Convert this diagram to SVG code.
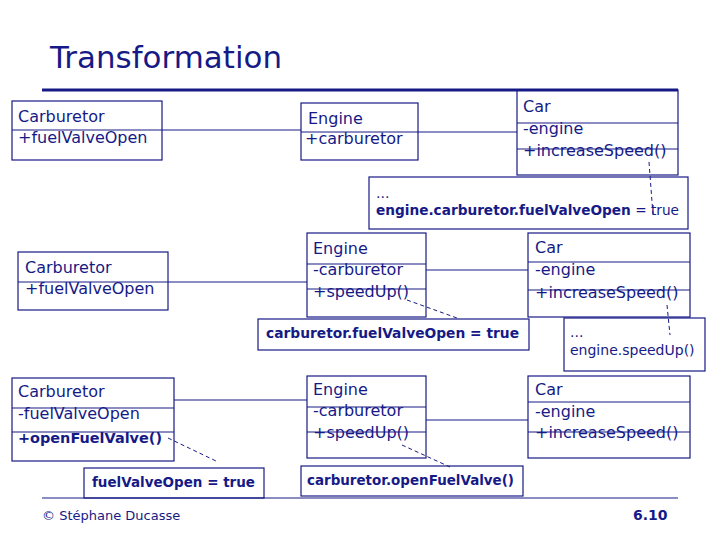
<svg xmlns="http://www.w3.org/2000/svg" width="720" height="540" viewBox="0 0 720 540">
<style>
text{font-family:"DejaVu Sans","Liberation Sans",sans-serif;fill:#161a86}
.t{font-size:16px}
.b{font-weight:bold;font-size:13.5px}
.n{font-size:14px}
.box{fill:none;stroke:#161a86;stroke-width:1.2}
.div{stroke:#161a86;stroke-width:1.2}
.c{stroke:#161a86;stroke-width:1.2;fill:none}
.d{stroke:#161a86;stroke-width:1;stroke-dasharray:4 3;fill:none}
</style>
<rect width="720" height="540" fill="#fff"/>
<text x="50" y="68" font-size="31" textLength="232" lengthAdjust="spacingAndGlyphs">Transformation</text>
<line x1="42" y1="90" x2="678" y2="90" stroke="#161a86" stroke-width="3"/>

<g id="connectors">
<line class="c" x1="162" y1="130" x2="301" y2="130"/>
<line class="c" x1="418" y1="132" x2="517" y2="132"/>
<line class="d" x1="649" y1="162" x2="653" y2="215"/>
<line class="c" x1="168" y1="282" x2="307" y2="282"/>
<line class="c" x1="426" y1="270" x2="528" y2="270"/>
<line class="d" x1="407" y1="300" x2="457" y2="318"/>
<line class="d" x1="667" y1="305" x2="670" y2="335"/>
<line class="c" x1="174" y1="400" x2="307" y2="400"/>
<line class="c" x1="426" y1="420" x2="528" y2="420"/>
<line class="d" x1="168" y1="438" x2="216" y2="461"/>
<line class="d" x1="402" y1="445" x2="450" y2="467"/>
</g>

<g id="carburetor1">
<rect class="box" x="12" y="101" width="150" height="59"/>
<line class="div" x1="12" y1="130" x2="162" y2="130"/>
<text class="t" x="18" y="122">Carburetor</text>
<text class="t" x="18" y="143">+fuelValveOpen</text>
</g>
<g id="engine1">
<rect class="box" x="301" y="103" width="117" height="57"/>
<line class="div" x1="301" y1="132" x2="418" y2="132"/>
<text class="t" x="308" y="124">Engine</text>
<text class="t" x="305" y="144">+carburetor</text>
</g>
<g id="car1">
<rect class="box" x="517" y="90" width="161" height="85"/>
<line class="div" x1="517" y1="123" x2="678" y2="123"/>
<line class="div" x1="517" y1="149" x2="678" y2="149"/>
<text class="t" x="523" y="112">Car</text>
<text class="t" x="523" y="134">-engine</text>
<text class="t" x="523" y="156">+increaseSpeed()</text>
</g>
<g id="note1">
<rect class="box" x="369" y="177" width="319" height="52"/>
<text class="n" x="376" y="198">...</text>
<text x="376" y="215" font-size="13.5" textLength="303" lengthAdjust="spacingAndGlyphs"><tspan font-weight="bold">engine.carburetor.fuelValveOpen</tspan> = true</text>
</g>

<g id="carburetor2">
<rect class="box" x="18" y="252" width="150" height="58"/>
<line class="div" x1="18" y1="282" x2="168" y2="282"/>
<text class="t" x="25" y="273">Carburetor</text>
<text class="t" x="25" y="294">+fuelValveOpen</text>
</g>
<g id="engine2">
<rect class="box" x="307" y="233" width="119" height="84"/>
<line class="div" x1="307" y1="264" x2="426" y2="264"/>
<line class="div" x1="307" y1="289" x2="426" y2="289"/>
<text class="t" x="313" y="254">Engine</text>
<text class="t" x="313" y="275">-carburetor</text>
<text class="t" x="313" y="297">+speedUp()</text>
</g>
<g id="car2">
<rect class="box" x="528" y="233" width="162" height="84"/>
<line class="div" x1="528" y1="262" x2="690" y2="262"/>
<line class="div" x1="528" y1="290" x2="690" y2="290"/>
<text class="t" x="535" y="253">Car</text>
<text class="t" x="535" y="275">-engine</text>
<text class="t" x="535" y="298">+increaseSpeed()</text>
</g>
<g id="note2">
<rect class="box" x="258" y="319" width="271" height="31"/>
<text class="b" x="266" y="338" textLength="253" lengthAdjust="spacingAndGlyphs">carburetor.fuelValveOpen = true</text>
</g>
<g id="note3">
<rect class="box" x="564" y="318" width="141" height="53"/>
<text class="n" x="570" y="337">...</text>
<text class="n" x="570" y="355">engine.speedUp()</text>
</g>

<g id="carburetor3">
<rect class="box" x="12" y="378" width="162" height="83"/>
<line class="div" x1="12" y1="408" x2="174" y2="408"/>
<line class="div" x1="12" y1="432" x2="174" y2="432"/>
<text class="t" x="18" y="397">Carburetor</text>
<text class="t" x="18" y="419">-fuelValveOpen</text>
<text x="18" y="443" font-size="14.5" font-weight="bold" textLength="144" lengthAdjust="spacingAndGlyphs">+openFuelValve()</text>
</g>
<g id="engine3">
<rect class="box" x="307" y="376" width="119" height="82"/>
<line class="div" x1="307" y1="407" x2="426" y2="407"/>
<line class="div" x1="307" y1="432" x2="426" y2="432"/>
<text class="t" x="313" y="395">Engine</text>
<text class="t" x="313" y="416">-carburetor</text>
<text class="t" x="313" y="438">+speedUp()</text>
</g>
<g id="car3">
<rect class="box" x="528" y="376" width="162" height="82"/>
<line class="div" x1="528" y1="402" x2="690" y2="402"/>
<line class="div" x1="528" y1="432" x2="690" y2="432"/>
<text class="t" x="535" y="395">Car</text>
<text class="t" x="535" y="417">-engine</text>
<text class="t" x="535" y="438">+increaseSpeed()</text>
</g>
<g id="note4">
<rect class="box" x="84" y="468" width="180" height="30"/>
<text class="b" x="92" y="487" textLength="163" lengthAdjust="spacingAndGlyphs">fuelValveOpen = true</text>
</g>
<g id="note5">
<rect class="box" x="301" y="466" width="222" height="30"/>
<text class="b" x="307" y="485" textLength="207" lengthAdjust="spacingAndGlyphs">carburetor.openFuelValve()</text>
</g>

<line x1="42" y1="498" x2="678" y2="498" stroke="#161a86" stroke-width="1.2"/>
<text x="42" y="520" font-size="13">© Stéphane Ducasse</text>
<text x="633" y="520" font-size="14" font-weight="bold">6.10</text>
</svg>
